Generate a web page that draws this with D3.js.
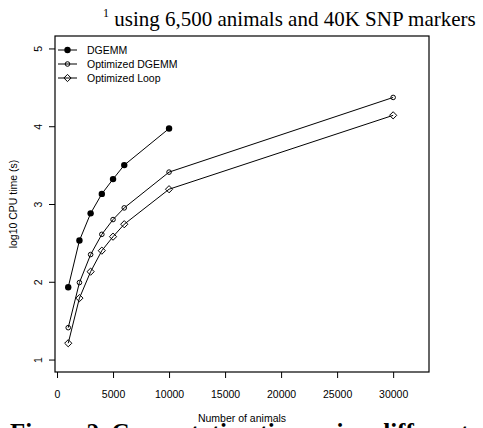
<!DOCTYPE html>
<html>
<head>
<meta charset="utf-8">
<script src="https://cdn.jsdelivr.net/npm/d3@7"></script>
<style>
  body { margin: 0; background: #fff; }
  svg { display: block; }
  text { font-family: "Liberation Sans", Arial, sans-serif; fill: #000; }
</style>
</head>
<body>
<svg id="chart"></svg>
<script>
//
// Data
//
var animals = [1000, 2000, 3000, 4000, 5000, 6000, 10000, 30000]
var dgemm = [1.93, 2.53, 2.88, 3.13, 3.32, 3.50, 3.97]
var optDgemm = [1.41, 1.99, 2.35, 2.61, 2.80, 2.95, 3.41, 4.37]
var optLoop = [1.21, 1.79, 2.13, 2.40, 2.58, 2.74, 3.19, 4.14]
var seriesNames = ['DGEMM', 'Optimized DGEMM', 'Optimized Loop']
var xTicks = [0, 5000, 10000, 15000, 20000, 25000, 30000]
var yTicks = [1, 2, 3, 4, 5]

//
// Layout
//
var width = 483, height = 428
var box = { left: 55, right: 429, top: 36, bottom: 372 }

var svg = d3.select('#chart').attr('width', width).attr('height', height)

var x = d3.scaleLinear().domain([-180, 33200]).range([box.left, box.right])
var y = d3.scaleLinear().domain([0.84, 5.16]).range([box.bottom, box.top])

// footnote at top
var note = svg.append('text')
  .attr('x', 103).attr('y', 26)
  .style('font-family', '"Liberation Serif", "Times New Roman", serif')
  .style('font-size', '21px')
note.append('tspan').text('1')
  .attr('dy', -9).style('font-size', '12px')
note.append('tspan').text(' using 6,500 animals and 40K SNP markers')
  .attr('dy', 9)

// axes
var xAxis = svg.append('g')
  .attr('transform', 'translate(0,' + box.bottom + ')')
  .call(d3.axisBottom(x).tickValues(xTicks).tickSize(6).tickFormat(d3.format('d')))
xAxis.select('.domain').remove()
xAxis.selectAll('text')
  .attr('y', 26).attr('dy', 0)
  .style('font-size', '10.5px')
  .style('font-family', '"Liberation Sans", Arial, sans-serif')

var yAxis = svg.append('g')
  .attr('transform', 'translate(' + box.left + ',0)')
  .call(d3.axisLeft(y).tickValues(yTicks).tickSize(6).tickFormat(d3.format('d')))
yAxis.select('.domain').remove()
yAxis.selectAll('text')
  .attr('x', 0).attr('dy', 0).attr('y', 0)
  .attr('text-anchor', 'middle')
  .attr('transform', 'translate(-13,0) rotate(-90)')
  .style('font-size', '10.5px')
  .style('font-family', '"Liberation Sans", Arial, sans-serif')

// box
svg.append('rect')
  .attr('x', box.left).attr('y', box.top)
  .attr('width', box.right - box.left).attr('height', box.bottom - box.top)
  .attr('fill', 'none').attr('stroke', '#000').attr('stroke-width', 1.2)

// axis titles
svg.append('text')
  .attr('x', (box.left + box.right) / 2).attr('y', 422)
  .attr('text-anchor', 'middle')
  .style('font-size', '10.5px')
  .text('Number of animals')

svg.append('text')
  .attr('transform', 'translate(17,' + (box.top + box.bottom) / 2 + ') rotate(-90)')
  .attr('text-anchor', 'middle')
  .style('font-size', '10.5px')
  .text('log10 CPU time (s)')

//
// Series
//
var line = d3.line().x(function(d) { return x(d[0]) }).y(function(d) { return y(d[1]) })

function pairs(vals) {
  return vals.map(function(v, i) { return [animals[i], v] })
}

function marker(g, kind, cx, cy) {
  if (kind === 0) {
    g.append('circle').attr('cx', cx).attr('cy', cy).attr('r', 3.2)
      .attr('fill', '#000')
  } else if (kind === 1) {
    g.append('circle').attr('cx', cx).attr('cy', cy).attr('r', 2.3)
      .attr('fill', 'none').attr('stroke', '#000').attr('stroke-width', 1)
  } else {
    var s = 3.6
    g.append('path')
      .attr('d', 'M' + cx + ',' + (cy - s) + 'L' + (cx + s) + ',' + cy +
        'L' + cx + ',' + (cy + s) + 'L' + (cx - s) + ',' + cy + 'Z')
      .attr('fill', 'none').attr('stroke', '#000').attr('stroke-width', 1)
  }
}

var allSeries = [dgemm, optDgemm, optLoop]
var plot = svg.append('g')

allSeries.forEach(function(vals, k) {
  var pts = pairs(vals)
  plot.append('path')
    .attr('d', line(pts))
    .attr('fill', 'none').attr('stroke', '#000').attr('stroke-width', 1)
  pts.forEach(function(p) { marker(plot, k, x(p[0]), y(p[1])) })
})

//
// Legend
//
var legend = svg.append('g')
seriesNames.forEach(function(name, k) {
  var ly = 50 + k * 14
  legend.append('line')
    .attr('x1', 58).attr('x2', 77).attr('y1', ly).attr('y2', ly)
    .attr('stroke', '#000').attr('stroke-width', 1)
  marker(legend, k, 67.5, ly)
  legend.append('text')
    .attr('x', 87).attr('y', ly).attr('dy', '0.36em')
    .style('font-size', '10.5px')
    .text(name)
})

// caption (cut off at the bottom edge)
svg.append('text')
  .attr('x', 10).attr('y', 441)
  .style('font-family', '"Liberation Serif", "Times New Roman", serif')
  .style('font-size', '25px').style('font-weight', 'bold')
  .text('Figure 2. Computation time using different')
</script>
</body>
</html>
